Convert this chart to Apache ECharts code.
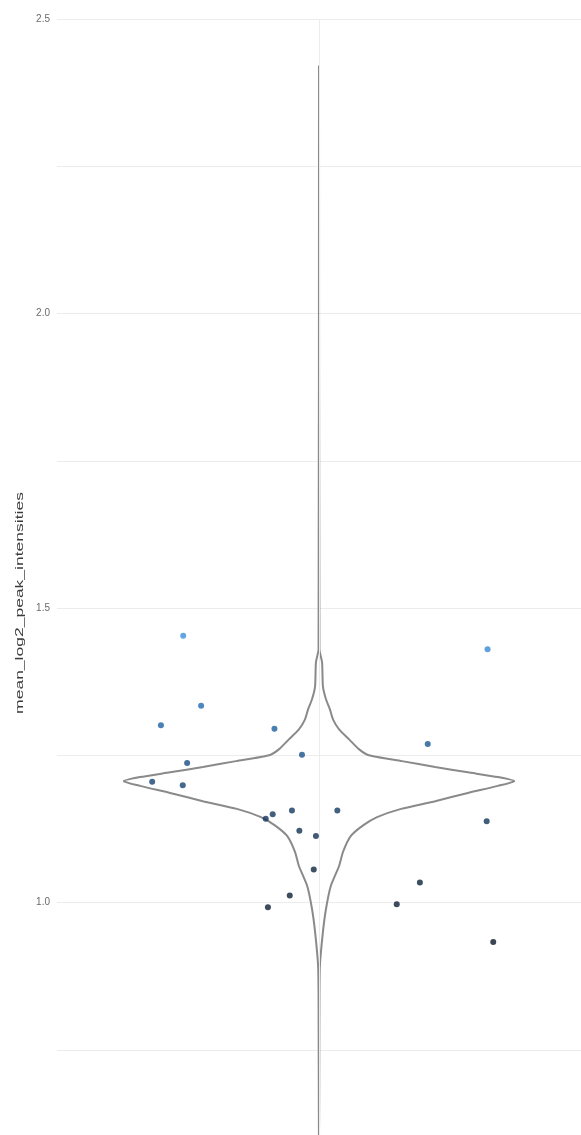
<!DOCTYPE html>
<html>
<head>
<meta charset="utf-8">
<script src="https://cdn.jsdelivr.net/npm/echarts@6/dist/echarts.min.js"></script>
<style>
  html, body { margin: 0; padding: 0; background: #ffffff; overflow: hidden; }
  #chart { width: 581px; height: 1202px; }
</style>
</head>
<body>
<div id="chart"></div>
<script>
// ---- data ----
const yAxisTitle = 'mean_log2_peak_intensities';
const yTickLabels = ['0.5', '1.0', '1.5', '2.0', '2.5'];

// jittered sample points (x = jitter around category 1, y = value)
const pointX = [0.689, 0.730, 0.638, 0.898, 0.961, 0.698, 0.618, 0.688, 0.894, 0.878, 0.938, 1.042,
                0.955, 0.993, 0.988, 0.933, 0.883, 1.386, 1.249, 1.384, 1.231, 1.178, 1.399];
const pointY = [1.453, 1.334, 1.301, 1.295, 1.251, 1.237, 1.205, 1.199, 1.150, 1.142, 1.156, 1.156,
                1.122, 1.113, 1.056, 1.012, 0.992, 1.430, 1.269, 1.138, 1.034, 0.997, 0.933];

// violin outline: value and half width (x units) from top to bottom
const violinY = [2.421, 1.430, 1.408, 1.367, 1.345, 1.328, 1.311, 1.294, 1.277, 1.260, 1.250, 1.240,
                 1.230, 1.221, 1.213, 1.206, 1.198, 1.186, 1.172, 1.159, 1.145, 1.131, 1.113, 1.086,
                 1.062, 1.028, 0.989, 0.950, 0.892, 0.836, 0.550];
const violinHalfWidth = [0, 0.001, 0.007, 0.009, 0.016, 0.025, 0.032, 0.046, 0.069, 0.092, 0.114, 0.190,
                         0.266, 0.341, 0.410, 0.447, 0.410, 0.341, 0.266, 0.188, 0.133, 0.101, 0.073, 0.055,
                         0.046, 0.027, 0.016, 0.009, 0.002, 0.001, 0];
const violinCenter = 1;

// ---- build series data ----
const violinPath = [];
for (let i = 0; i < violinY.length; i++) violinPath.push([violinCenter + violinHalfWidth[i], violinY[i]]);
for (let i = violinY.length - 1; i >= 0; i--) violinPath.push([violinCenter - violinHalfWidth[i], violinY[i]]);

const points = pointX.map((x, i) => [x, pointY[i]]);

const chart = echarts.init(document.getElementById('chart'), null, { renderer: 'canvas' });
chart.setOption({
  animation: false,
  backgroundColor: '#ffffff',
  grid: { left: 57, right: 0, top: 19, bottom: 1.5, containLabel: false },
  xAxis: {
    type: 'value', min: 0.4, max: 1.6, show: false
  },
  yAxis: {
    type: 'value', min: 0.5, max: 2.5, interval: 0.25,
    axisLine: { show: false },
    axisTick: { show: false },
    splitLine: { show: true, lineStyle: { color: '#ececec', width: 1 } },
    axisLabel: {
      margin: 7,
      fontSize: 10,
      color: '#6a6a6a',
      fontFamily: 'Liberation Sans, Arial, sans-serif',
      formatter: function (v) {
        const s = v.toFixed(1);
        return (Math.abs(v * 2 - Math.round(v * 2)) < 1e-6 && yTickLabels.indexOf(s) >= 0) ? s : '';
      }
    }
  },
  visualMap: {
    type: 'continuous', show: false, seriesIndex: 1, dimension: 1,
    min: 0.93, max: 1.45,
    inRange: { color: ['#0b1626', '#0f2640', '#15406b', '#1f66ab', '#3b8fda'] }
  },
  graphic: [{
    type: 'text',
    x: 20, y: 603,
    rotation: Math.PI / 2,
    scaleX: 1.75,
    style: {
      text: yAxisTitle,
      fontSize: 10,
      fontFamily: 'Liberation Sans, Arial, sans-serif',
      fill: '#3a3a3a',
      align: 'center',
      verticalAlign: 'middle'
    }
  }],
  series: [
    {
      type: 'line',
      data: violinPath,
      symbol: 'none',
      smooth: 0.2,
      lineStyle: { color: '#8a8a8a', width: 2 },
      z: 2,
      markLine: {
        silent: true,
        symbol: 'none',
        label: { show: false },
        lineStyle: { color: '#ececec', type: 'solid', width: 1 },
        data: [{ xAxis: violinCenter }]
      }
    },
    {
      type: 'scatter',
      data: points,
      symbolSize: 6,
      z: 3
    }
  ]
});
</script>
</body>
</html>
